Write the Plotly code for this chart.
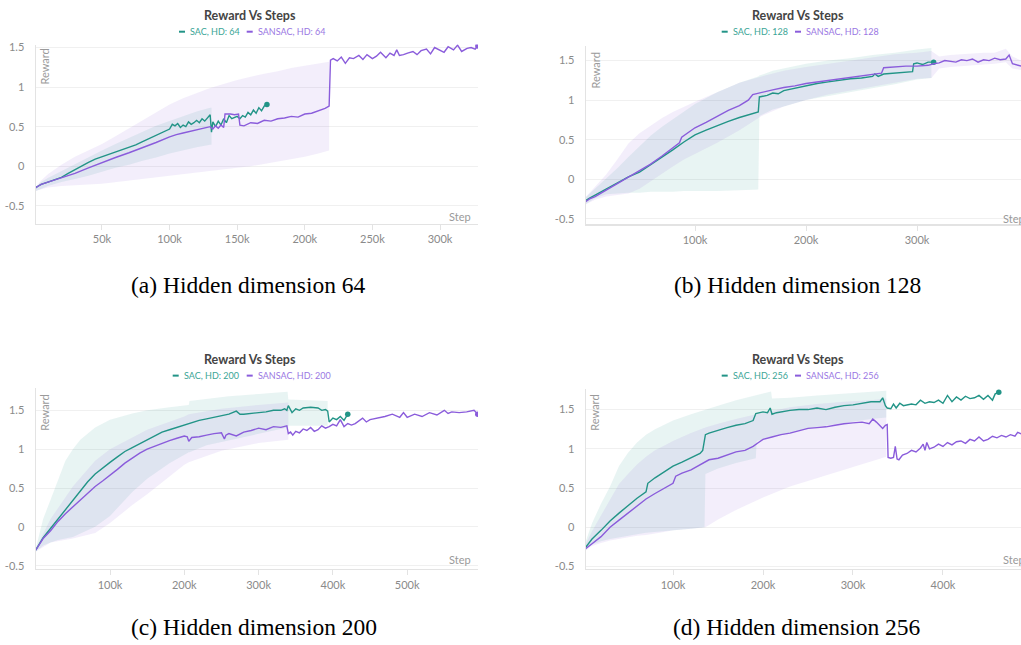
import plotly.graph_objects as go

W, H = 1021, 645
SAC_COLOR = "#229487"
SANSAC_COLOR = "#8a5cdb"
SAC_TEXT = "#3aa596"
SANSAC_TEXT = "#9a77e3"
SAC_FILL = "rgba(34,148,135,0.10)"
SANSAC_FILL = "rgba(138,92,219,0.10)"

# ---------------- (a) Hidden dimension 64 (steps in thousands) ----------------
a_sac_k = [0,1,3,5,10,15,20,25,30,35,40,45,50,55,60,65,70,75,80,85,90,95,100,
           102,104,106,108,110,112,114,116,118,120,122,124,126,128,130,131,
           132,134,136,138,140,142,144,146,148,150,152,154,156,158,160,162,164,166,168,170,172]
a_sac_r = [-0.30,-0.27,-0.25,-0.23,-0.20,-0.17,-0.14,-0.09,-0.04,0.01,0.05,0.09,0.12,0.15,0.18,0.21,0.24,0.27,0.31,0.35,0.39,0.43,0.47,
           0.53,0.51,0.54,0.49,0.52,0.50,0.56,0.53,0.55,0.58,0.55,0.60,0.57,0.61,0.65,0.43,
           0.56,0.50,0.57,0.52,0.60,0.55,0.64,0.60,0.62,0.63,0.60,0.64,0.62,0.68,0.65,0.71,0.67,0.74,0.70,0.76,0.78]
a_sansac_k = [0,1,3,5,10,15,20,25,30,40,50,60,70,80,90,100,105,110,115,120,125,130,
              132,134,136,138,140,141,145,148,151,152,155,158,
              160,165,170,175,180,185,190,195,200,205,210,215,218,
              219,221,224,227,230,233,236,240,243,246,250,253,256,260,263,266,268,270,273,276,
              280,283,286,290,293,296,300,303,306,310,313,316,320,323,326,328]
a_sansac_r = [-0.30,-0.27,-0.25,-0.23,-0.20,-0.17,-0.15,-0.12,-0.09,-0.02,0.05,0.11,0.17,0.23,0.30,0.37,0.40,0.42,0.44,0.46,0.48,0.50,
              0.47,0.51,0.48,0.52,0.49,0.66,0.66,0.65,0.66,0.52,0.51,0.53,
              0.55,0.54,0.58,0.57,0.60,0.61,0.63,0.62,0.66,0.67,0.70,0.73,0.76,
              1.34,1.36,1.33,1.38,1.30,1.37,1.36,1.40,1.35,1.41,1.36,1.39,1.44,1.37,1.43,1.40,1.47,1.40,1.41,1.43,
              1.45,1.41,1.46,1.48,1.42,1.50,1.47,1.44,1.51,1.47,1.53,1.45,1.49,1.50,1.48,1.52]
a_sac_band_k = [0,5,10,20,30,40,50,60,70,80,90,100,110,120,130,131]
a_sac_band_lo = [-0.32,-0.28,-0.25,-0.20,-0.16,-0.12,-0.07,-0.02,0.02,0.07,0.11,0.16,0.20,0.24,0.27,0.27]
a_sac_band_hi = [-0.28,-0.20,-0.15,-0.06,0.03,0.12,0.20,0.28,0.36,0.44,0.51,0.57,0.63,0.69,0.74,0.74]
a_sansac_band_k = [0,5,10,20,30,40,50,60,70,80,90,100,110,120,130,140,150,160,170,180,190,200,210,218]
a_sansac_band_lo = [-0.32,-0.29,-0.27,-0.25,-0.24,-0.23,-0.22,-0.20,-0.18,-0.16,-0.14,-0.12,-0.10,-0.08,-0.06,-0.04,-0.02,0.00,0.03,0.06,0.09,0.12,0.16,0.20]
a_sansac_band_hi = [-0.28,-0.18,-0.10,0.02,0.12,0.20,0.28,0.38,0.48,0.58,0.68,0.78,0.86,0.93,0.99,1.04,1.09,1.13,1.17,1.20,1.24,1.27,1.30,1.32]
a_ticks = [50, 100, 150, 200, 250, 300]

# ---------------- (b) Hidden dimension 128 ----------------
b_sac_k = [0,2,5,10,20,30,40,50,60,70,80,90,100,110,120,130,140,150,155,157,158,165,170,175,180,
           190,200,210,220,230,240,250,260,262,265,270,280,290,296,297,300,305,310,315]
b_sac_r = [-0.28,-0.26,-0.24,-0.20,-0.12,-0.04,0.03,0.09,0.18,0.28,0.37,0.47,0.56,0.62,0.68,0.73,0.78,0.82,0.84,0.85,
           1.04,1.06,1.09,1.08,1.12,1.15,1.18,1.21,1.23,1.25,1.27,1.28,1.30,1.33,1.30,1.33,1.34,1.35,1.36,1.46,
           1.47,1.45,1.48,1.48]
b_sansac_k = [0,2,5,10,20,30,40,50,60,70,80,86,88,95,100,110,120,130,140,148,152,160,170,180,190,
              200,210,220,230,240,250,260,268,270,280,290,300,310,315,320,325,330,335,340,345,
              350,355,360,365,370,375,380,383,386,390,394]
b_sansac_r = [-0.30,-0.28,-0.25,-0.22,-0.14,-0.05,0.03,0.10,0.19,0.29,0.39,0.46,0.53,0.60,0.65,
              0.72,0.80,0.87,0.93,1.00,1.07,1.10,1.13,1.16,1.18,1.21,1.23,1.25,1.27,1.29,
              1.31,1.33,1.34,1.41,1.42,1.43,1.43,1.44,1.46,1.47,1.50,1.49,1.48,1.51,1.50,
              1.52,1.48,1.51,1.50,1.53,1.51,1.52,1.57,1.46,1.44,1.43]
b_sac_band_k = [0,10,20,30,40,50,60,70,80,90,100,120,140,157,158,170,180,200,220,240,260,280,300,313]
b_sac_band_lo = [-0.33,-0.24,-0.19,-0.18,-0.17,-0.17,-0.16,-0.16,-0.16,-0.15,-0.15,-0.15,-0.14,-0.13,0.80,
                 0.88,0.92,1.00,1.05,1.10,1.15,1.20,1.26,1.28]
b_sac_band_hi = [-0.25,-0.12,0.00,0.14,0.28,0.42,0.55,0.66,0.76,0.86,0.95,1.10,1.22,1.30,1.31,
                 1.37,1.40,1.46,1.50,1.53,1.57,1.60,1.64,1.66]
b_sansac_band_k = [0,10,20,30,40,50,60,70,80,90,100,120,140,160,180,200,220,240,260,280,300,313,320,330,340,
                   350,360,370,380,386,394]
b_sansac_band_lo = [-0.33,-0.26,-0.22,-0.20,-0.18,-0.12,-0.02,0.07,0.16,0.25,0.32,0.46,0.62,0.80,0.92,
                    1.00,1.07,1.12,1.17,1.22,1.27,1.28,1.40,1.42,1.43,1.44,1.45,1.46,1.48,1.40,1.38]
b_sansac_band_hi = [-0.25,-0.10,0.06,0.25,0.45,0.58,0.68,0.77,0.85,0.92,0.98,1.10,1.22,1.30,1.37,
                    1.42,1.46,1.50,1.54,1.58,1.60,1.62,1.55,1.57,1.58,1.59,1.60,1.60,1.65,1.55,1.50]
b_ticks = [100, 200, 300]

# ---------------- (c) Hidden dimension 200 ----------------
c_sac_k = [0,2,5,10,15,20,30,40,50,60,70,80,90,100,110,120,130,140,150,160,170,180,190,200,210,
           220,230,240,250,260,270,275,280,290,300,310,320,330,335,338,340,345,350,355,360,
           370,380,385,390,393,395,400,405,410,415,420]
c_sac_r = [-0.30,-0.26,-0.22,-0.14,-0.08,-0.02,0.10,0.22,0.34,0.47,0.58,0.68,0.76,0.83,0.90,
           0.97,1.02,1.07,1.13,1.18,1.22,1.25,1.28,1.32,1.34,1.37,1.39,1.41,1.43,1.45,
           1.49,1.45,1.45,1.46,1.47,1.48,1.50,1.50,1.52,1.50,1.56,1.47,1.52,1.50,1.53,
           1.54,1.53,1.50,1.51,1.49,1.35,1.40,1.38,1.42,1.37,1.45]
c_sansac_k = [0,2,5,10,20,30,40,50,60,70,80,90,100,110,120,130,140,150,160,170,180,190,200,204,206,
              210,220,230,240,250,254,256,260,270,280,290,300,310,320,330,338,340,343,346,350,
              355,360,365,370,375,380,385,390,395,400,405,410,415,420,425,430,440,445,450,460,
              470,480,490,495,500,510,520,530,540,550,555,560,570,580,590,595]
c_sansac_r = [-0.30,-0.27,-0.22,-0.15,-0.05,0.07,0.17,0.26,0.35,0.44,0.52,0.59,0.66,0.74,0.82,
              0.89,0.95,1.00,1.04,1.08,1.11,1.14,1.17,1.16,1.10,1.15,1.16,1.18,1.20,1.21,
              1.13,1.18,1.20,1.17,1.22,1.24,1.27,1.25,1.29,1.28,1.30,1.20,1.22,1.18,1.23,
              1.21,1.26,1.24,1.28,1.23,1.25,1.30,1.27,1.29,1.32,1.30,1.38,1.29,1.33,1.31,
              1.33,1.40,1.35,1.38,1.40,1.42,1.45,1.41,1.47,1.41,1.45,1.42,1.47,1.44,1.50,
              1.46,1.48,1.47,1.48,1.50,1.45]
c_sac_band_k = [0,10,20,30,40,50,60,80,100,130,150,180,206,207,230,260,300,339,340,370,393]
c_sac_band_lo = [-0.32,-0.24,-0.20,-0.17,-0.15,-0.13,-0.08,0.00,0.14,0.45,0.62,0.82,0.96,0.96,1.05,
                 1.12,1.20,1.28,1.30,1.30,1.30]
c_sac_band_hi = [-0.28,0.10,0.35,0.60,0.85,1.00,1.12,1.28,1.38,1.46,1.50,1.54,1.57,1.62,1.65,
                 1.68,1.71,1.74,1.64,1.63,1.62]
c_sansac_band_k = [0,20,50,80,100,130,150,200,206,250,300,340]
c_sansac_band_lo = [-0.32,-0.20,-0.15,-0.08,0.05,0.28,0.42,0.80,0.83,0.98,1.08,1.12]
c_sansac_band_hi = [-0.28,0.10,0.52,0.85,1.00,1.15,1.25,1.42,1.45,1.52,1.57,1.60]
c_ticks = [100, 200, 300, 400, 500]

# ---------------- (d) Hidden dimension 256 ----------------
d_sac_k = [0,2,5,10,20,30,40,50,60,70,72,80,90,100,110,120,130,133,136,140,150,160,170,180,189,
           192,200,205,208,210,215,220,230,240,250,260,270,280,290,300,310,320,330,333,336,
           338,342,345,348,352,356,360,365,370,375,380,385,390,395,400,405,410,415,420,425,
           430,435,440,445,450,455,458,462]
d_sac_r = [-0.30,-0.27,-0.22,-0.15,-0.04,0.08,0.18,0.28,0.37,0.45,0.56,0.63,0.71,0.78,0.83,
           0.88,0.94,0.98,1.18,1.20,1.24,1.27,1.30,1.32,1.36,1.45,1.47,1.46,1.52,1.44,
           1.46,1.47,1.49,1.50,1.50,1.52,1.50,1.53,1.55,1.56,1.58,1.60,1.60,1.65,1.55,
           1.52,1.51,1.57,1.52,1.58,1.55,1.56,1.57,1.56,1.62,1.58,1.60,1.59,1.62,1.58,
           1.68,1.60,1.66,1.62,1.67,1.64,1.65,1.68,1.63,1.68,1.62,1.70,1.72]
d_sansac_k = [0,2,5,10,20,30,40,50,60,70,80,90,100,103,110,120,130,140,150,160,170,180,189,195,200,
              210,220,230,240,250,260,270,280,290,300,310,318,322,326,330,333,336,338,339,342,
              345,347,349,351,355,360,365,370,375,378,380,382,385,390,395,400,405,410,415,420,
              425,430,435,440,445,450,455,460,465,470,475,480,483,487]
d_sansac_r = [-0.30,-0.28,-0.25,-0.21,-0.12,0.00,0.09,0.18,0.27,0.36,0.43,0.50,0.56,0.65,0.69,
              0.73,0.79,0.86,0.88,0.92,0.96,0.98,1.03,1.08,1.12,1.15,1.18,1.20,1.23,1.26,
              1.27,1.28,1.30,1.32,1.33,1.34,1.32,1.38,1.34,1.30,1.26,1.30,1.31,0.89,0.88,
              0.89,1.03,0.87,0.86,0.92,0.94,0.98,0.96,1.01,1.06,0.98,1.08,1.00,1.02,1.06,
              1.03,1.08,1.05,1.09,1.10,1.07,1.12,1.10,1.15,1.10,1.12,1.16,1.14,1.17,1.15,
              1.18,1.16,1.21,1.19]
d_sac_band_k = [0,10,20,30,40,50,60,70,80,90,100,120,135,136,150,170,192,193,209,210,230,260,290,320,337]
d_sac_band_lo = [-0.32,-0.22,-0.18,-0.15,-0.13,-0.11,-0.09,-0.07,-0.06,-0.05,-0.04,-0.02,0.00,0.68,0.75,
                 0.82,0.88,1.10,1.15,1.16,1.20,1.28,1.33,1.38,1.40]
d_sac_band_hi = [-0.28,0.05,0.30,0.52,0.78,0.95,1.08,1.18,1.25,1.31,1.36,1.44,1.50,1.50,1.55,
                 1.62,1.68,1.68,1.73,1.64,1.65,1.68,1.70,1.72,1.74]
d_sansac_band_k = [0,10,20,30,40,50,60,70,80,90,100,120,136,150,170,200,230,260,290,320,337]
d_sansac_band_lo = [-0.32,-0.24,-0.20,-0.17,-0.15,-0.13,-0.11,-0.10,-0.08,-0.06,-0.04,-0.02,0.00,0.10,0.22,
                    0.38,0.52,0.63,0.74,0.84,0.90]
d_sansac_band_hi = [-0.28,-0.05,0.15,0.35,0.55,0.68,0.80,0.90,0.98,1.04,1.10,1.20,1.27,1.32,1.38,
                    1.46,1.53,1.57,1.60,1.62,1.64]
d_ticks = [100, 200, 300, 400]

y_ticks = [-0.5, 0, 0.5, 1, 1.5]
y_ticktext = ["-0.5", "0", "0.5", "1", "1.5"]

panels = [
    dict(hd="64", cap="(a) Hidden dimension 64",
         sac=(a_sac_k, a_sac_r), sansac=(a_sansac_k, a_sansac_r),
         sac_band=(a_sac_band_k, a_sac_band_lo, a_sac_band_hi),
         sansac_band=(a_sansac_band_k, a_sansac_band_lo, a_sansac_band_hi),
         ticks=a_ticks, xr=(1.2, 328.1), yr=(-0.725, 1.5375),
         px=(36, 478), py=(41, 222), cx=250, ty=12, ly=28, leg=179, leg2=246.7, capy=284, capx=248,
         rew=(45, 43), step=(473, 215), step_anchor="right"),
    dict(hd="128", cap="(b) Hidden dimension 128",
         sac=(b_sac_k, b_sac_r), sansac=(b_sansac_k, b_sansac_r),
         sac_band=(b_sac_band_k, b_sac_band_lo, b_sac_band_hi),
         sansac_band=(b_sansac_band_k, b_sansac_band_lo, b_sansac_band_hi),
         ticks=b_ticks, xr=(1.8, 393.7), yr=(-0.57, 1.69),
         px=(586, 1021), py=(42, 222.7), cx=798, ty=12, ly=28, leg=721.7, leg2=795, capy=284, capx=797,
         rew=(595, 47), step=(1001, 217), step_anchor="left"),
    dict(hd="200", cap="(c) Hidden dimension 200",
         sac=(c_sac_k, c_sac_r), sansac=(c_sansac_k, c_sansac_r),
         sac_band=(c_sac_band_k, c_sac_band_lo, c_sac_band_hi),
         sansac_band=(c_sansac_band_k, c_sansac_band_lo, c_sansac_band_hi),
         ticks=c_ticks, xr=(0.4, 595.3), yr=(-0.54, 1.79),
         px=(36, 478), py=(388, 571), cx=250, ty=359, ly=375.7, leg=172.7, leg2=246.7, capy=630, capx=254,
         rew=(45, 393), step=(473, 562), step_anchor="right"),
    dict(hd="256", cap="(d) Hidden dimension 256",
         sac=(d_sac_k, d_sac_r), sansac=(d_sansac_k, d_sansac_r),
         sac_band=(d_sac_band_k, d_sac_band_lo, d_sac_band_hi),
         sansac_band=(d_sansac_band_k, d_sansac_band_lo, d_sansac_band_hi),
         ticks=d_ticks, xr=(3.3, 486.7), yr=(-0.53, 1.765),
         px=(586, 1021), py=(389, 571), cx=798, ty=359, ly=375.7, leg=721.7, leg2=795, capy=630, capx=797,
         rew=(595, 393), step=(1001, 562), step_anchor="left"),
]

for p in panels:
    for key in ("sac", "sansac"):
        assert len(p[key][0]) == len(p[key][1]), (p["hd"], key)
    for key in ("sac_band", "sansac_band"):
        k, lo, hi = p[key]
        assert len(k) == len(lo) == len(hi), (p["hd"], key)

def fx(px):
    return px / W

def fy(py):
    return 1 - py / H

fig = go.Figure()
annotations = []
shapes = []
layout_axes = {}

for i, p in enumerate(panels):
    n = "" if i == 0 else str(i + 1)
    xa, ya = "x" + n, "y" + n
    # bands
    for key, fill in (("sac_band", SAC_FILL), ("sansac_band", SANSAC_FILL)):
        k, lo, hi = p[key]
        xs = [v * 1000 for v in k] + [v * 1000 for v in k[::-1]]
        ys = list(hi) + list(lo[::-1])
        fig.add_trace(go.Scatter(x=xs, y=ys, fill="toself", fillcolor=fill,
                                 line=dict(width=0), mode="lines", hoverinfo="skip",
                                 showlegend=False, xaxis=xa, yaxis=ya))
    # lines
    for key, color in (("sac", SAC_COLOR), ("sansac", SANSAC_COLOR)):
        k, r = p[key]
        xs = [v * 1000 for v in k]
        fig.add_trace(go.Scatter(x=xs, y=r, mode="lines", line=dict(color=color, width=1.4),
                                 showlegend=False, xaxis=xa, yaxis=ya))
        if k[-1] < p["xr"][1]:
            fig.add_trace(go.Scatter(x=[xs[-1]], y=[r[-1]], mode="markers",
                                     marker=dict(color=color, size=5.5),
                                     showlegend=False, xaxis=xa, yaxis=ya))
    # axes
    layout_axes["xaxis" + n] = dict(
        domain=[fx(p["px"][0]), min(1.0, fx(p["px"][1]))],
        range=[p["xr"][0] * 1000, p["xr"][1] * 1000],
        anchor=ya, showgrid=False, zeroline=False,
        showline=True, linecolor="#e3e3e3", linewidth=1.5,
        ticks="outside", ticklen=5, tickcolor="#e3e3e3", tickwidth=1,
        tickvals=[t * 1000 for t in p["ticks"]],
        ticktext=[f"{t}k" for t in p["ticks"]],
        tickfont=dict(family="Lato", size=11, color="#8a8a8a"),
    )
    layout_axes["yaxis" + n] = dict(
        domain=[fy(p["py"][1]), fy(p["py"][0])],
        range=list(p["yr"]), anchor=xa,
        showgrid=True, gridcolor="#f0f0f0", gridwidth=1, zeroline=False,
        showline=True, linecolor="#e3e3e3", linewidth=1.5, ticks="",
        tickvals=y_ticks, ticktext=y_ticktext, ticklabelstandoff=8,
        tickfont=dict(family="Lato", size=11, color="#8a8a8a"),
    )
    # title
    annotations.append(dict(text="<b>Reward Vs Steps</b>", x=fx(p["cx"]), y=fy(p["ty"]),
                            xref="paper", yref="paper", showarrow=False,
                            xanchor="center", yanchor="middle",
                            font=dict(family="Lato", size=12.5, color="#444444")))
    # legend (dash shapes + coloured text)
    sac_label = f"SAC, HD: {p['hd']}"
    sansac_label = f"SANSAC, HD: {p['hd']}"
    for x0, color, label in ((p["leg"], SAC_COLOR, sac_label), (p["leg2"], SANSAC_COLOR, sansac_label)):
        shapes.append(dict(type="line", xref="paper", yref="paper",
                           x0=fx(x0), x1=fx(x0 + 6), y0=fy(p["ly"]), y1=fy(p["ly"]),
                           line=dict(color=color, width=2)))
        annotations.append(dict(text=label, x=fx(x0 + 9), y=fy(p["ly"]),
                                xref="paper", yref="paper", showarrow=False,
                                xanchor="left", yanchor="middle",
                                font=dict(family="Lato", size=9,
                                          color=SAC_TEXT if color == SAC_COLOR else SANSAC_TEXT)))
    # axis labels
    annotations.append(dict(text="Reward", x=fx(p["rew"][0]), y=fy(p["rew"][1]),
                            xref="paper", yref="paper", showarrow=False, textangle=-90,
                            xanchor="center", yanchor="top",
                            font=dict(family="Lato", size=11, color="#9a9a9a")))
    annotations.append(dict(text="Step", x=fx(p["step"][0]), y=fy(p["step"][1]),
                            xref="paper", yref="paper", showarrow=False,
                            xanchor=p["step_anchor"], yanchor="middle",
                            font=dict(family="Lato", size=11, color="#9a9a9a")))
    # caption
    annotations.append(dict(text=p["cap"], x=fx(p["capx"]), y=fy(p["capy"]),
                            xref="paper", yref="paper", showarrow=False,
                            xanchor="center", yanchor="middle",
                            font=dict(family="Liberation Serif", size=23.5, color="#000000")))

fig.update_layout(
    width=W, height=H, margin=dict(l=0, r=0, t=0, b=0),
    paper_bgcolor="white", plot_bgcolor="white",
    showlegend=False, annotations=annotations, shapes=shapes,
    hovermode=False,
    **layout_axes,
)

fig.write_html("out.html",
               config={"displayModeBar": False, "staticPlot": True},
               post_script="document.body.style.margin='0px';document.body.style.padding='0px';")
